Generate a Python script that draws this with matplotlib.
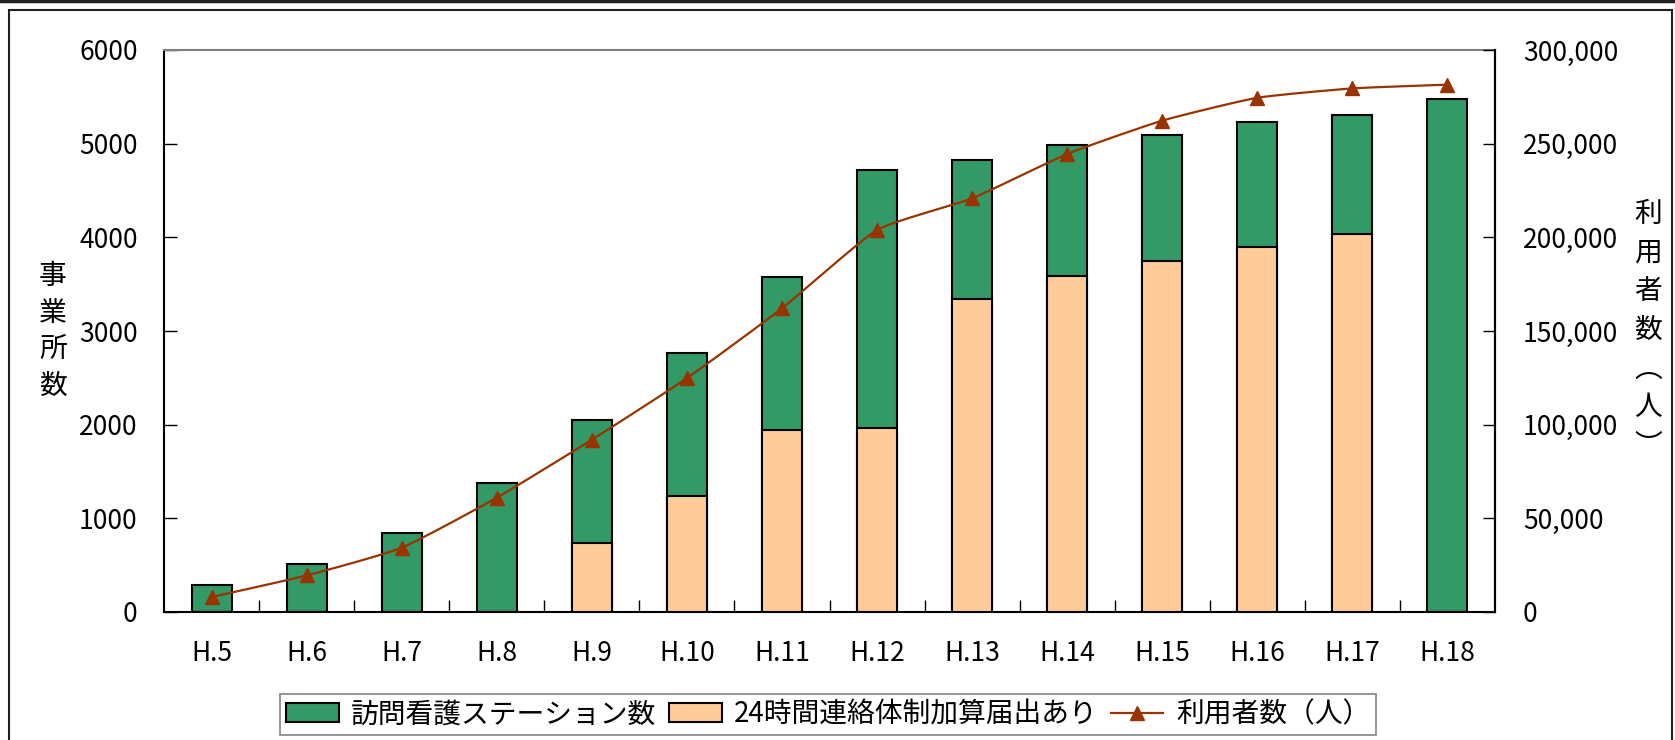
import numpy as np
import matplotlib
matplotlib.use("Agg")
import matplotlib.pyplot as plt
from matplotlib.patches import Rectangle, Patch
from matplotlib.lines import Line2D

plt.rcParams['font.family'] = ['Noto Sans CJK JP', 'DejaVu Sans']

categories = ["H.5", "H.6", "H.7", "H.8", "H.9", "H.10", "H.11", "H.12",
              "H.13", "H.14", "H.15", "H.16", "H.17", "H.18"]
stations = [285, 511, 839, 1382, 2053, 2762, 3573, 4722, 4826, 4986, 5089, 5228, 5309, 5473]
with_24h = [0, 0, 0, 0, 732, 1238, 1946, 1968, 3342, 3587, 3747, 3893, 4032, 0]
users = [8000, 19500, 34300, 61000, 91950, 124800, 162100, 203900, 220800,
         244500, 262300, 274500, 279500, 281500]

left_ticks = [0, 1000, 2000, 3000, 4000, 5000, 6000]
right_ticks = [0, 50000, 100000, 150000, 200000, 250000, 300000]

GREEN = "#339966"
ORANGE = "#FFCC99"
LINEC = "#993300"
FS = 19

W, H = 1675, 740
fig = plt.figure(figsize=(W / 100, H / 100), dpi=100)
ax = fig.add_axes([164 / W, 1 - 612 / H, (1495 - 164) / W, (612 - 50) / H])

x = np.arange(len(categories))
bw = 0.42
ax.bar(x, stations, width=bw, color=GREEN, edgecolor="black", linewidth=1.5, zorder=2)
ax.bar(x, with_24h, width=bw, color=ORANGE, edgecolor="black", linewidth=1.5, zorder=3)

ax.set_xlim(-0.5, len(categories) - 0.5)
ax.set_ylim(0, 6000)
ax.set_yticks(left_ticks)
ax.set_yticklabels([str(v) for v in left_ticks])
ax.set_xticks(x)
ax.set_xticklabels(categories)
ax.set_xticks(np.arange(0.5, len(categories) - 1, 1.0), minor=True)
ax.tick_params(axis='x', which='major', length=0, pad=20, labelsize=FS)
ax.tick_params(axis='x', which='minor', direction='in', length=9, width=1, color="black")
ax.tick_params(axis='y', direction='in', length=9, width=1, pad=19, labelsize=FS)

for s in ["left", "bottom", "right"]:
    ax.spines[s].set_color("black")
    ax.spines[s].set_linewidth(1.5)
ax.spines["top"].set_color("#808080")
ax.spines["top"].set_linewidth(1.5)

ax2 = ax.twinx()
ax2.set_ylim(0, 300000)
ax2.set_yticks(right_ticks)
ax2.set_yticklabels([f"{v:,}" for v in right_ticks])
ax2.tick_params(axis='y', direction='in', length=9, width=1, pad=20, labelsize=FS)
for s in ["left", "bottom", "right", "top"]:
    ax2.spines[s].set_visible(False)
ax2.spines["right"].set_visible(True)
ax2.spines["right"].set_color("black")
ax2.spines["right"].set_linewidth(1.5)

# lightly smoothed line (Bezier through the data points, small tangents)
xs = x.astype(float)
ys = np.array(users, dtype=float)
px = np.concatenate([[2 * xs[0] - xs[1]], xs, [2 * xs[-1] - xs[-2]]])
py = np.concatenate([[2 * ys[0] - ys[1]], ys, [2 * ys[-1] - ys[-2]]])
k = 1 / 12
cx, cy = [], []
t = np.linspace(0, 1, 30)
for i in range(1, len(px) - 2):
    p0, p1, p2, p3 = px[i - 1], px[i], px[i + 1], px[i + 2]
    q0, q1, q2, q3 = py[i - 1], py[i], py[i + 1], py[i + 2]
    bx = [p1, p1 + (p2 - p0) * k, p2 - (p3 - p1) * k, p2]
    by = [q1, q1 + (q2 - q0) * k, q2 - (q3 - q1) * k, q2]
    for arr, b in ((cx, bx), (cy, by)):
        arr.extend(((1 - t) ** 3) * b[0] + 3 * ((1 - t) ** 2) * t * b[1]
                   + 3 * (1 - t) * t ** 2 * b[2] + t ** 3 * b[3])
ax2.plot(cx, cy, color=LINEC, linewidth=1.6, zorder=4)
ax2.plot(xs, ys, linestyle="none", marker="^", markersize=10, color=LINEC, zorder=5)

# vertical axis titles
fig.text(53 / W, 1 - 331 / H, "\n".join("事業所数"), ha="center", va="center",
         fontsize=20, linespacing=1.3)
fig.text(1648 / W, 1 - 330 / H, "\n".join(["利", "用", "者", "数", "︵", "人", "︶"]),
         ha="center", va="center", fontsize=20, linespacing=1.38)

handles = [Patch(facecolor=GREEN, edgecolor="black", linewidth=1.5),
           Patch(facecolor=ORANGE, edgecolor="black", linewidth=1.5),
           Line2D([], [], color=LINEC, linewidth=1.6, marker="^", markersize=10)]
labels = ["訪問看護ステーション数", "24時間連絡体制加算届出あり", "利用者数（人）"]
leg = fig.legend(handles, labels, loc="center", bbox_to_anchor=(828 / W, 1 - 714.5 / H),
                 ncol=3, fontsize=20, frameon=True, fancybox=False, edgecolor="#707070",
                 handlelength=1.9, handleheight=0.65, handletextpad=0.45,
                 columnspacing=0.45, borderpad=0.2, borderaxespad=0)
leg.get_frame().set_linewidth(1.3)

# outer frame
fig.add_artist(Rectangle((9 / W, -0.05), (1672 - 9) / W, 1.05 - 10 / H,
                         transform=fig.transFigure, fill=False, edgecolor="#202020",
                         linewidth=1.5))
fig.add_artist(Line2D([0, 1], [1 - 1 / H, 1 - 1 / H], transform=fig.transFigure,
                      color="#202020", linewidth=2.5))

fig.savefig("out.png", dpi=100)
